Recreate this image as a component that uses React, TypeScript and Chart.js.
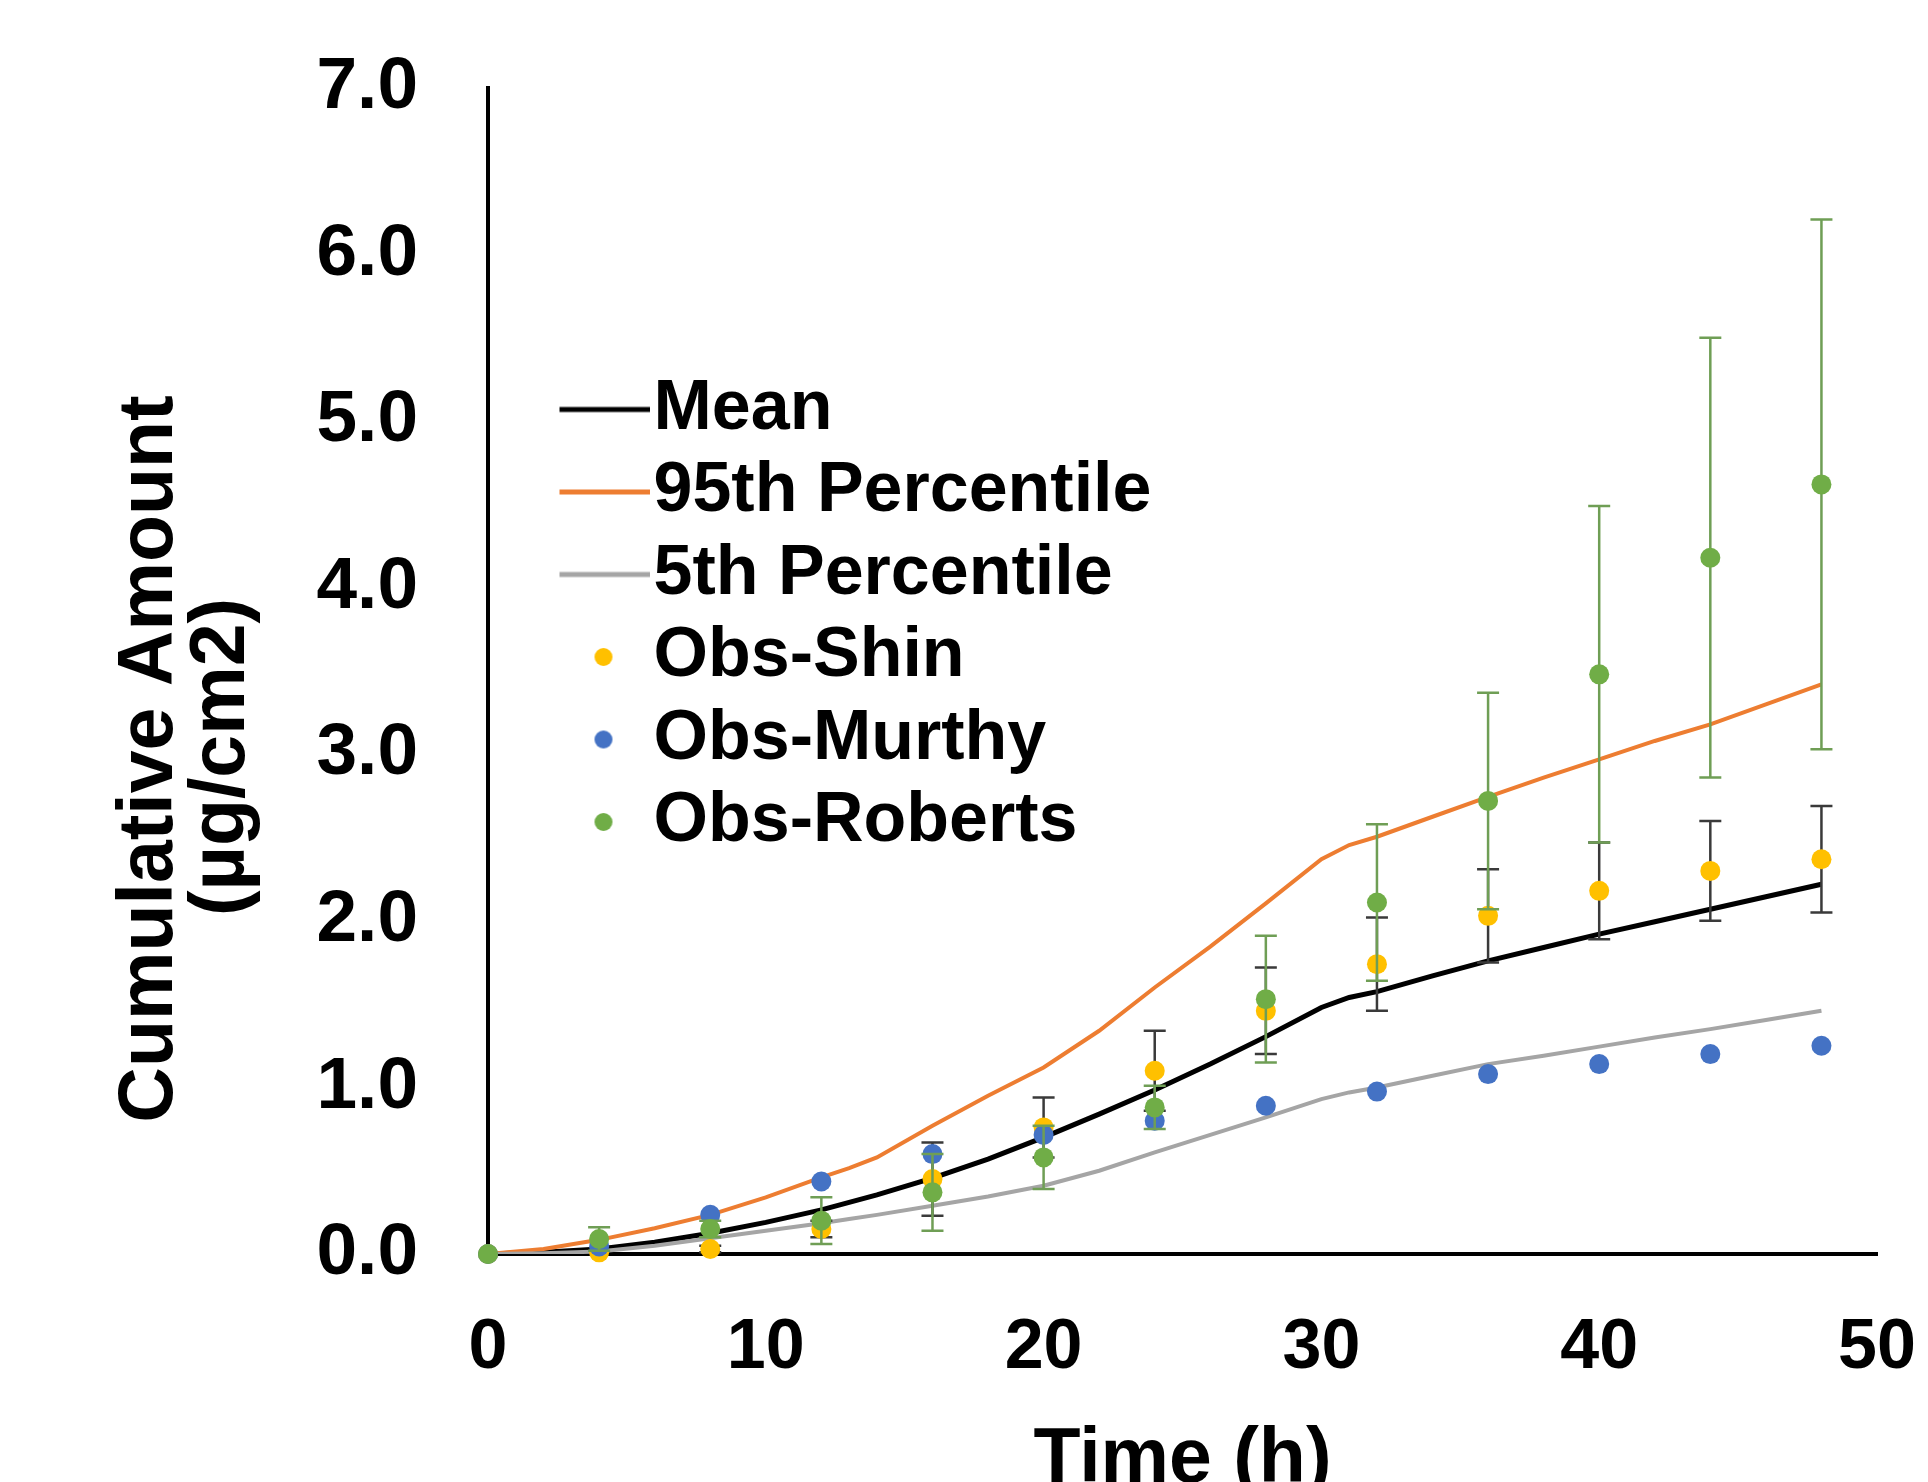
import React, { useEffect, useRef } from 'react';
import { Chart, registerables } from 'chart.js';

Chart.register(...registerables);

// ---- Data ----
const simTimes = [0, 2, 4, 6, 8, 10, 12, 13, 14, 16, 18, 20, 22, 24, 26, 28, 30, 31, 32, 34, 36, 38, 40, 42, 44, 46, 48];
const meanValues = [0, 0.01, 0.03, 0.07, 0.125, 0.19, 0.265, 0.31, 0.355, 0.455, 0.57, 0.70, 0.84, 0.985, 1.14, 1.305, 1.48, 1.54, 1.575, 1.67, 1.76, 1.84, 1.92, 1.995, 2.07, 2.145, 2.22];
const p95Values = [0, 0.03, 0.085, 0.155, 0.235, 0.34, 0.46, 0.515, 0.58, 0.77, 0.95, 1.12, 1.34, 1.60, 1.845, 2.105, 2.37, 2.455, 2.505, 2.625, 2.745, 2.86, 2.97, 3.08, 3.18, 3.30, 3.42];
const p5Values = [0, 0.005, 0.015, 0.05, 0.095, 0.14, 0.185, 0.21, 0.235, 0.29, 0.345, 0.41, 0.50, 0.61, 0.715, 0.82, 0.93, 0.97, 1.0, 1.07, 1.14, 1.19, 1.245, 1.30, 1.35, 1.405, 1.46];

const obsTimes = [0, 4, 8, 12, 16, 20, 24, 28, 32, 36, 40, 44, 48];
const shinValues = [0, 0.01, 0.03, 0.15, 0.45, 0.76, 1.10, 1.46, 1.74, 2.03, 2.18, 2.30, 2.37];
const shinErrors = [0, 0, 0.02, 0.05, 0.22, 0.18, 0.24, 0.26, 0.28, 0.28, 0.29, 0.30, 0.32];
const murthyValues = [0, 0.045, 0.235, 0.435, 0.60, 0.715, 0.80, 0.89, 0.975, 1.08, 1.14, 1.20, 1.25];
const robertsValues = [0, 0.09, 0.15, 0.20, 0.37, 0.58, 0.88, 1.53, 2.11, 2.72, 3.48, 4.18, 4.62];
const robertsErrors = [0, 0.07, 0.05, 0.14, 0.23, 0.19, 0.13, 0.38, 0.47, 0.65, 1.01, 1.32, 1.59];

const seriesLabels = ['Mean', '95th Percentile', '5th Percentile', 'Obs-Shin', 'Obs-Murthy', 'Obs-Roberts'];
const xTickValues = [0, 10, 20, 30, 40, 50];
const yTitleLines = ['Cumulative Amount', '(µg/cm2)'];
const xTitle = 'Time (h)';

const FONT = "'Liberation Sans', Arial, Helvetica, sans-serif";

const COLORS = {
  mean: '#000000',
  p95: '#ED7D31',
  p5: '#A5A5A5',
  shin: '#FFC000',
  murthy: '#4472C4',
  roberts: '#70AD47',
  shinErr: '#3a3a3a',
  robertsErr: '#6f9e55',
};

function toXY(xs: number[], ys: number[]) {
  return xs.map((x, i) => ({ x, y: ys[i] }));
}

const SW_W = 180;
function lineSwatch(color: string, lw: number) {
  const c = document.createElement('canvas');
  c.width = SW_W;
  c.height = 12;
  const g = c.getContext('2d')!;
  g.strokeStyle = color;
  g.lineWidth = lw;
  g.beginPath();
  g.moveTo(90, 6);
  g.lineTo(SW_W, 6);
  g.stroke();
  return c;
}

function dotSwatch(color: string) {
  const c = document.createElement('canvas');
  c.width = SW_W;
  c.height = 24;
  const g = c.getContext('2d')!;
  g.fillStyle = color;
  g.beginPath();
  g.arc(134, 12, 9, 0, Math.PI * 2);
  g.fill();
  return c;
}

const errorBarPlugin = {
  id: 'errorBars',
  beforeDatasetDraw(chart: any, args: any) {
    const ds: any = chart.data.datasets[args.index];
    if (!ds.errorBars) return;
    const { ctx } = chart;
    const xs = chart.scales.x;
    const ys = chart.scales.y;
    ctx.save();
    ctx.strokeStyle = ds.errorColor;
    ctx.lineWidth = 2.5;
    const cap = 11;
    ds.data.forEach((p: any, i: number) => {
      const e = ds.errorBars[i];
      if (!e) return;
      const px = xs.getPixelForValue(p.x);
      const top = ys.getPixelForValue(p.y + e);
      const bot = ys.getPixelForValue(p.y - e);
      ctx.beginPath();
      ctx.moveTo(px, top);
      ctx.lineTo(px, bot);
      ctx.moveTo(px - cap, top);
      ctx.lineTo(px + cap, top);
      ctx.moveTo(px - cap, bot);
      ctx.lineTo(px + cap, bot);
      ctx.stroke();
    });
    ctx.restore();
  },
};

const yTitlePlugin = {
  id: 'yTitle',
  afterDraw(chart: any) {
    const { ctx } = chart;
    const opts = chart.options.plugins.yTitle;
    ctx.save();
    ctx.fillStyle = '#000';
    ctx.font = `bold ${opts.size}px ${FONT}`;
    ctx.textAlign = 'center';
    ctx.textBaseline = 'middle';
    opts.lines.forEach((line: string, i: number) => {
      ctx.save();
      ctx.translate(opts.x[i], opts.y[i]);
      ctx.rotate(-Math.PI / 2);
      ctx.fillText(line, 0, 0);
      ctx.restore();
    });
    ctx.restore();
  },
};

export default function App() {
  const ref = useRef<HTMLCanvasElement>(null);

  useEffect(() => {
    const canvas = ref.current!;
    const swatches = [
      lineSwatch(COLORS.mean, 5),
      lineSwatch(COLORS.p95, 5),
      lineSwatch(COLORS.p5, 5),
      dotSwatch(COLORS.shin),
      dotSwatch(COLORS.murthy),
      dotSwatch(COLORS.roberts),
    ];

    const lineDs = (label: string, values: number[], color: string, width: number, order: number) => ({
      type: 'line',
      label,
      data: toXY(simTimes, values),
      borderColor: color,
      backgroundColor: color,
      borderWidth: width,
      pointRadius: 0,
      tension: 0,
      fill: false,
      order,
    });
    const dotDs = (label: string, values: number[], color: string, order: number, errs?: number[], errColor?: string) => ({
      type: 'line',
      label,
      data: toXY(obsTimes, values),
      showLine: false,
      borderColor: color,
      backgroundColor: color,
      pointBackgroundColor: color,
      pointBorderWidth: 0,
      pointRadius: 10,
      clip: false,
      order,
      errorBars: errs,
      errorColor: errColor,
    });

    const chart = new Chart(canvas, {
      type: 'line',
      data: {
        datasets: [
          lineDs(seriesLabels[0], meanValues, COLORS.mean, 5, 5),
          lineDs(seriesLabels[1], p95Values, COLORS.p95, 4, 4),
          lineDs(seriesLabels[2], p5Values, COLORS.p5, 4, 3),
          dotDs(seriesLabels[3], shinValues, COLORS.shin, 2, shinErrors, COLORS.shinErr),
          dotDs(seriesLabels[4], murthyValues, COLORS.murthy, 1),
          dotDs(seriesLabels[5], robertsValues, COLORS.roberts, 0, robertsErrors, COLORS.robertsErr),
        ] as any,
      },
      options: {
        responsive: false,
        animation: false,
        devicePixelRatio: 1,
        layout: { padding: { left: 0, top: 88, right: 51, bottom: 0 } },
        scales: {
          x: {
            type: 'linear',
            min: 0,
            max: 50,
            afterBuildTicks: (scale: any) => {
              scale.ticks = xTickValues.map((v) => ({ value: v }));
            },
            afterFit: (scale: any) => {
              scale.height = 228;
            },
            grid: { display: false, drawTicks: true, tickLength: 53 },
            border: { display: true, color: '#000', width: 4 },
            ticks: {
              color: '#000',
              padding: 0,
              font: { family: FONT, size: 70, weight: 'bold' },
              callback: (v: any) => String(v),
            },
            title: {
              display: true,
              text: xTitle,
              color: '#000',
              font: { family: FONT, size: 77, weight: 'bold', lineHeight: 1 },
              padding: { top: 0, bottom: -17 },
            },
          },
          y: {
            type: 'linear',
            min: 0,
            max: 7,
            afterFit: (scale: any) => {
              scale.width = 488;
            },
            grid: { display: false, drawTicks: true, tickLength: 70 },
            border: { display: true, color: '#000', width: 4 },
            ticks: {
              stepSize: 1,
              color: '#000',
              padding: 0,
              font: { family: FONT, size: 73, weight: 'bold' },
              callback: (v: any) => Number(v).toFixed(1),
            },
          },
        },
        plugins: {
          tooltip: { enabled: false },
          legend: {
            display: true,
            position: 'chartArea',
            align: 'start',
            title: {
              display: true,
              text: '',
              font: { size: 10, lineHeight: 1 },
              padding: { top: 352, bottom: 0 },
            },
            labels: {
              usePointStyle: true,
              pointStyleWidth: 118,
              padding: 12.5,
              color: '#000',
              font: { family: FONT, size: 70, weight: 'bold' },
              sort: (a: any, b: any) => a.datasetIndex - b.datasetIndex,
              generateLabels: (ch: any) => {
                const items = Chart.defaults.plugins.legend.labels.generateLabels(ch);
                return items.map((it: any) => ({ ...it, pointStyle: swatches[it.datasetIndex], lineWidth: 0 }));
              },
            },
          },
          yTitle: {
            lines: yTitleLines,
            size: 77,
            x: [151, 223],
            y: [759, 757],
          },
        } as any,
      },
      plugins: [errorBarPlugin, yTitlePlugin],
    } as any);

    return () => chart.destroy();
  }, []);

  return (
    <div style={{ position: 'fixed', left: 0, top: 0, width: 1928, height: 1482, background: '#fff' }}>
      <canvas ref={ref} width={1928} height={1482} style={{ display: 'block' }} />
    </div>
  );
}
